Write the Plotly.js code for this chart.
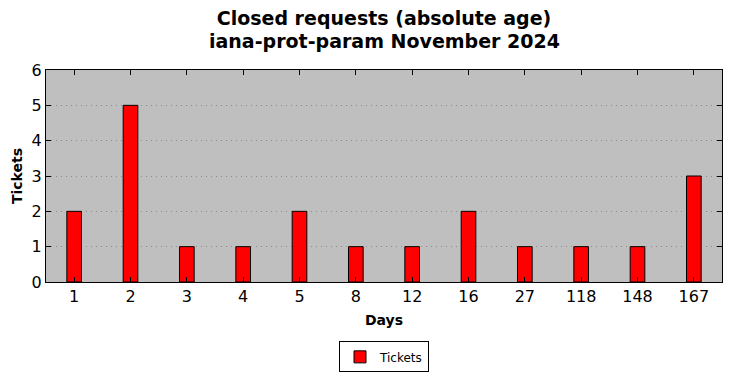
<!DOCTYPE html>
<html>
<head>
<meta charset="utf-8">
<script src="https://cdn.plot.ly/plotly-3.0.1.min.js"></script>
<style>html,body{margin:0;padding:0;background:#fff;}#chart{width:732px;height:378px;}</style>
</head>
<body>
<div id="chart"></div>
<script>
const days = ["1", "2", "3", "4", "5", "8", "12", "16", "27", "118", "148", "167"];
const tickets = [2, 5, 1, 1, 2, 1, 1, 2, 1, 1, 1, 3];
const seriesName = "Tickets";
const titleLines = ["Closed requests (absolute age)", "iana-prot-param November 2024"];

const font = "DejaVu Sans, sans-serif";
const titleFont = {family: font, size: 19, weight: "bold", color: "#000"};
const data = [{
  type: "bar",
  x: days,
  y: tickets,
  name: seriesName,
  width: 0.26,
  marker: {color: "#ff0000", line: {color: "#000000", width: 1}}
}];
const layout = {
  width: 732, height: 378,
  margin: {l: 46, r: 10, t: 70, b: 96, autoexpand: false},
  paper_bgcolor: "#ffffff",
  plot_bgcolor: "#bfbfbf",
  font: {family: font, color: "#000"},
  title: {
    text: titleLines[0],
    font: titleFont,
    x: 0.5, xref: "paper", xanchor: "center",
    y: 1 - 18/378, yref: "container", yanchor: "middle"
  },
  annotations: [{
    text: titleLines[1],
    font: titleFont,
    showarrow: false,
    xref: "paper", x: 0.5, xanchor: "center",
    yref: "paper", y: (282 - 41) / 212, yanchor: "middle"
  }],
  showlegend: true,
  legend: {
    orientation: "h", x: 0.5, xanchor: "center", xref: "paper",
    y: -0.28, yanchor: "top",
    bordercolor: "#000", borderwidth: 1, bgcolor: "#fff",
    font: {family: font, size: 12, color: "#000"}
  },
  xaxis: {
    type: "category",
    range: [-0.5, 11.5],
    showline: true, mirror: "allticks", linecolor: "#000", linewidth: 1,
    ticks: "inside", ticklen: 5, tickcolor: "#000",
    showgrid: false, zeroline: false,
    tickfont: {family: font, size: 16, color: "#000"},
    title: {text: "Days", font: {family: font, size: 14, weight: "bold", color: "#000"}, standoff: 9}
  },
  yaxis: {
    range: [0, 6],
    dtick: 1,
    showline: true, mirror: "allticks", linecolor: "#000", linewidth: 1,
    ticks: "inside", ticklen: 5, tickcolor: "#000",
    showgrid: true, gridcolor: "#8c8c8c", griddash: "1px,4px", gridwidth: 1,
    zeroline: false,
    tickfont: {family: font, size: 16, color: "#000"},
    title: {text: "Tickets", font: {family: font, size: 14, weight: "bold", color: "#000"}, standoff: 5}
  },
  bargap: 0.74
};
Plotly.newPlot("chart", data, layout, {staticPlot: true, displayModeBar: false});
</script>
</body>
</html>
